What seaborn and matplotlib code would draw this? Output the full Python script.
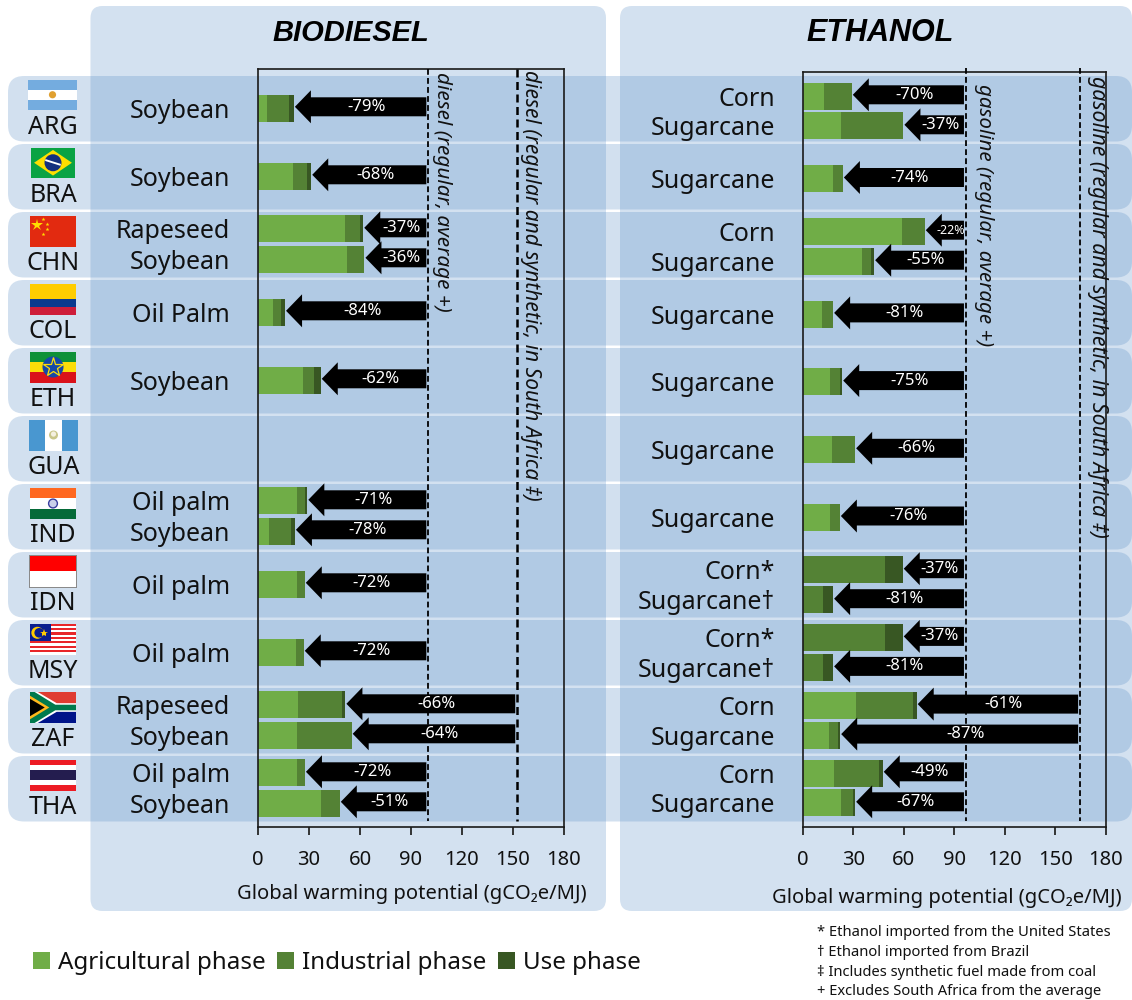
import numpy as np
import pandas as pd
import matplotlib
matplotlib.use("Agg")
import matplotlib.pyplot as plt
from matplotlib.patches import FancyBboxPatch, Rectangle, Polygon, Circle, Patch
import seaborn as sns

# ---------- data ----------
countries = ["ARG", "BRA", "CHN", "COL", "ETH", "GUA", "IND", "IDN", "MSY", "ZAF", "THA"]

bio_row = [0, 1, 2, 2, 3, 4, 6, 6, 7, 8, 9, 9, 10, 10]
bio_lane = [0, 0, -1, 1, 0, 0, -1, 1, 0, 0, -1, 1, -1, 1]
bio_feed = ["Soybean", "Soybean", "Rapeseed", "Soybean", "Oil Palm", "Soybean", "Oil palm", "Soybean",
            "Oil palm", "Oil palm", "Rapeseed", "Soybean", "Oil palm", "Soybean"]
bio_agri = [5.3, 20.5, 51.3, 52.4, 8.8, 26.5, 22.9, 6.2, 22.9, 22.5, 23.4, 22.7, 22.7, 37.2]
bio_ind = [12.9, 8.4, 8.6, 9.8, 4.5, 6.7, 4.5, 13.1, 4.5, 4.3, 25.9, 32.3, 4.8, 10.8]
bio_use = [2.8, 2.3, 1.9, 0.3, 2.5, 3.6, 1.5, 2.3, 0.0, 0.0, 2.0, 0.0, 0.0, 0.0]
bio_pct = ["-79%", "-68%", "-37%", "-36%", "-84%", "-62%", "-71%", "-78%", "-72%", "-72%", "-66%", "-64%", "-72%", "-51%"]
bio_fossil = [100.2, 100.2, 100.2, 100.2, 100.2, 100.2, 100.2, 100.2, 100.2, 100.2, 152.5, 152.5, 100.2, 100.2]
bio_refs = [100.2, 152.5]

eth_row = [0, 0, 1, 2, 2, 3, 4, 5, 6, 7, 7, 8, 8, 9, 9, 10, 10]
eth_lane = [-1, 1, 0, -1, 1, 0, 0, 0, 0, -1, 1, -1, 1, -1, 1, -1, 1]
eth_feed = ["Corn", "Sugarcane", "Sugarcane", "Corn", "Sugarcane", "Sugarcane", "Sugarcane", "Sugarcane", "Sugarcane",
            "Corn*", "Sugarcane†", "Corn*", "Sugarcane†", "Corn", "Sugarcane", "Corn", "Sugarcane"]
eth_agri = [12.5, 22.4, 18.0, 59.0, 35.2, 11.1, 15.8, 17.0, 16.2, 0.0, 0.0, 0.0, 0.0, 31.3, 15.6, 18.2, 22.6]
eth_ind = [16.4, 37.2, 5.6, 13.3, 5.2, 6.7, 6.4, 13.9, 5.6, 48.7, 11.7, 48.7, 11.7, 34.2, 5.2, 26.8, 7.3]
eth_use = [0.0, 0.0, 0.0, 0.0, 1.8, 0.0, 1.0, 0.0, 0.0, 10.5, 6.1, 10.5, 6.1, 2.0, 1.2, 2.3, 1.0]
eth_pct = ["-70%", "-37%", "-74%", "-22%", "-55%", "-81%", "-75%", "-66%", "-76%", "-37%", "-81%", "-37%", "-81%",
           "-61%", "-87%", "-49%", "-67%"]
eth_fossil = [96.9, 96.9, 96.9, 96.9, 96.9, 96.9, 96.9, 96.9, 96.9, 96.9, 96.9, 96.9, 96.9, 164.8, 164.8, 96.9, 96.9]
eth_refs = [96.9, 164.8]

phases = ["Agricultural phase", "Industrial phase", "Use phase"]
xticks = [0, 30, 60, 90, 120, 150, 180]
xlabel = "Global warming potential (gCO₂e/MJ)"
footnotes = ["* Ethanol imported from the United States", "† Ethanol imported from Brazil",
             "‡ Includes synthetic fuel made from coal", "+ Excludes South Africa from the average"]

# ---------- style ----------
C_AGRI, C_IND, C_USE = "#70AD47", "#548235", "#385723"
PANEL = "#D3E1F0"
BAND = "#4F87C3"
sns.set_theme(style="ticks")
plt.rcParams["font.family"] = ["Noto Sans", "DejaVu Sans"]
plt.rcParams["axes.edgecolor"] = "#1a1a1a"
plt.rcParams["text.color"] = "#111111"

W, H = 1132, 1000
fig = plt.figure(figsize=(W / 100, H / 100), dpi=100, facecolor="white")
bg = fig.add_axes([0, 0, 1, 1], zorder=0)
bg.set_xlim(0, W)
bg.set_ylim(H, 0)
bg.axis("off")


def rbox(x0, y0, x1, y1, r, **kw):
    bg.add_patch(FancyBboxPatch((x0 + r, y0 + r), x1 - x0 - 2 * r, y1 - y0 - 2 * r,
                                boxstyle=f"round,pad={r},rounding_size={r}", linewidth=0, **kw))


rbox(90.5, 6, 606, 911, 12, facecolor=PANEL, zorder=1)
rbox(620, 6, 1132, 911, 12, facecolor=PANEL, zorder=1)
for i in range(len(countries)):
    rbox(8, 76 + 68 * i, 1132, 141.5 + 68 * i, 16, facecolor=BAND, alpha=0.25, zorder=2)


# ---------- flags (decoration) ----------
def flag_rect(b, fx, fy, fw, fh, c, z=5):
    x, y, w, h = b
    bg.add_patch(Rectangle((x + fx * w, y + fy * h), fw * w, fh * h, facecolor=c, linewidth=0, zorder=z))


def flag_poly(b, pts, c, z=6):
    x, y, w, h = b
    bg.add_patch(Polygon([(x + px * w, y + py * h) for px, py in pts], closed=True, facecolor=c, linewidth=0, zorder=z))


def flag_dot(b, fx, fy, r, c, z=7):
    x, y, w, h = b
    bg.add_patch(Circle((x + fx * w, y + fy * h), r, facecolor=c, linewidth=0, zorder=z))


def stripes(b, fracs, cols):
    y = 0
    for f, c in zip(fracs, cols):
        flag_rect(b, 0, y, 1, f, c)
        y += f


boxes = {"ARG": (28, 79.5, 49, 30.5), "BRA": (31, 147.5, 44, 30.5), "CHN": (30, 215.5, 46, 31),
         "COL": (30, 283.5, 46, 31), "ETH": (30, 351.5, 46, 31), "GUA": (29, 419.5, 49, 31),
         "IND": (30, 488, 46, 31), "IDN": (30, 555.5, 46, 31.5), "MSY": (30, 623.5, 46, 31),
         "ZAF": (30, 692, 46, 31), "THA": (30, 759.5, 46, 31)}

b = boxes["ARG"]
stripes(b, [1 / 3, 1 / 3, 1 / 3], ["#74ACDF", "white", "#74ACDF"])
flag_dot(b, .5, .5, 3.6, "#E0A030")
b = boxes["BRA"]
flag_rect(b, 0, 0, 1, 1, "#0AA344")
flag_poly(b, [(.07, .5), (.5, .08), (.93, .5), (.5, .92)], "#FEDF00")
flag_dot(b, .5, .5, 8.5, "#14307E")
flag_poly(b, [(.33, .38), (.68, .54), (.67, .6), (.32, .44)], "white", 8)
b = boxes["CHN"]
flag_rect(b, 0, 0, 1, 1, "#E22A10")
bg.plot(b[0] + 7, b[1] + 9, marker="*", ms=9, color="#FFDE00", mew=0, zorder=7)
for fx, fy in [(.29, .1), (.36, .26), (.36, .45), (.29, .6)]:
    bg.plot(b[0] + fx * b[2], b[1] + fy * b[3], marker="*", ms=3, color="#FFDE00", mew=0, zorder=7)
b = boxes["COL"]
stripes(b, [.5, .25, .25], ["#FFCD00", "#0B3A8E", "#CE1E3A"])
b = boxes["ETH"]
stripes(b, [1 / 3, 1 / 3, 1 / 3], ["#0F9138", "#FCDD09", "#DA121A"])
flag_dot(b, .5, .5, 10.5, "#1548A8")
bg.plot(b[0] + b[2] / 2, b[1] + b[3] / 2, marker="*", ms=15, mfc="none", mec="#FCDD09", mew=.9, zorder=8)
b = boxes["GUA"]
stripes(b, [1], ["#4997D0"])
flag_rect(b, 1 / 3, 0, 1 / 3, 1, "white", 6)
flag_dot(b, .5, .5, 4.5, "#C9C68A")
flag_dot(b, .5, .47, 2.6, "#F4F0E0", 8)
b = boxes["IND"]
stripes(b, [1 / 3, 1 / 3, 1 / 3], ["#FF6820", "white", "#046A38"])
bg.add_patch(Circle((b[0] + b[2] / 2, b[1] + b[3] / 2), 4.4, facecolor="#C9CFEA", edgecolor="#3A3FA0", linewidth=1, zorder=7))
b = boxes["IDN"]
flag_rect(b, -.02, -.02, 1.04, 1.04, "#8A8A8A", 4)
stripes(b, [.5, .5], ["#FF0000", "white"])
b = boxes["MSY"]
for k in range(14):
    flag_rect(b, 0, k / 14, 1, 1 / 14, "#E8262A" if k % 2 == 0 else "white")
flag_rect(b, 0, 0, .46, 8 / 14, "#0A1F8F", 6)
flag_dot(b, .16, .3, 6, "#FFCC00")
flag_dot(b, .20, .3, 4.8, "#0A1F8F", 8)
bg.plot(b[0] + .31 * b[2], b[1] + .3 * b[3], marker="*", ms=6, color="#FFCC00", mew=0, zorder=9)
b = boxes["ZAF"]
stripes(b, [.5, .5], ["#E03C31", "#001489"])
flag_poly(b, [(0, 0), (.17, 0), (.58, .36), (1, .36), (1, .64), (.58, .64), (.17, 1), (0, 1)], "white", 6)
flag_poly(b, [(0, 0), (.1, 0), (.55, .41), (1, .41), (1, .59), (.55, .59), (.1, 1), (0, 1)], "#007A4D", 7)
flag_poly(b, [(0, .12), (.42, .5), (0, .88)], "#FFB81C", 8)
flag_poly(b, [(0, .22), (.32, .5), (0, .78)], "black", 9)
b = boxes["THA"]
stripes(b, [1 / 6, 1 / 6, 1 / 3, 1 / 6, 1 / 6], ["#ED1C24", "white", "#241D4F", "white", "#ED1C24"])

for i, c in enumerate(countries):
    bg.text(boxes[c][0] + boxes[c][2] / 2, 127.5 + 68 * i, c, ha="center", va="center", fontsize=18, color="#111111", zorder=10)


# ---------- charts ----------
def panel(bounds, p0, pitch, title, title_x, title_size, rows, lanes, feeds, agri, ind, use, pct, fossil, refs,
          ref_texts, ref_lw, ref_top, lane_off, xlab_x, xlab_y):
    x0, x1, top, bot = bounds
    ax = fig.add_axes([x0 / W, 1 - bot / H, (x1 - x0) / W, (bot - top) / H], zorder=3)
    ax.patch.set_alpha(0)
    pos = np.array(rows, float) + np.array(lanes, float) * lane_off
    a, i_, u = map(np.array, (agri, ind, use))
    df = pd.DataFrame({"pos": pos, "agri": a, "agri_ind": a + i_, "total": a + i_ + u})
    width = (27 / pitch) / np.diff(np.unique(pos)).min()
    for col, colr in [("total", C_USE), ("agri_ind", C_IND), ("agri", C_AGRI)]:
        sns.barplot(data=df, x=col, y="pos", orient="y", native_scale=True, width=width, color=colr,
                    saturation=1, errorbar=None, linewidth=0, ax=ax)
    ax.set_xlim(0, 180)
    ax.set_ylim((bot - p0) / pitch, (top - p0) / pitch)
    px_x = (x1 - x0) / 180
    dy = 1.2 / pitch
    for y, tot, f, lab in zip(pos, df["total"], fossil, pct):
        end = f - 2 / px_x
        tip = tot + 1.2 / px_x
        ax.arrow(end, y - dy, tip - end, 0, width=19 / pitch, head_width=33 / pitch, head_length=16 / px_x,
                 length_includes_head=True, facecolor="black", edgecolor="none", zorder=8)
        small = lab == "-22%"
        ax.text((tip + 16 / px_x + end) / 2 - 2 / px_x, y - dy, lab, color="white", ha="center", va="center",
                fontsize=9 if small else 12, zorder=9)
    y_end = (821 - p0) / pitch
    y_start = (ref_top - p0) / pitch
    for r, lw in zip(refs, ref_lw):
        ax.plot([r, r], [y_start, y_end], color="black", lw=lw, ls=(0, (3.2, 1.8)), clip_on=False, zorder=7)
    for (r_x, y_px, size, s) in ref_texts:
        ax.text(r_x, (y_px - p0) / pitch, s, rotation=-90, style="italic", ha="center", va="top", fontsize=size, zorder=7, clip_on=False)
    ax.set_yticks(pos, feeds)
    ax.set_xticks(xticks, [str(t) for t in xticks])
    ax.tick_params(axis="y", length=0, pad=20, labelsize=18, labelcolor="#111111")
    ax.tick_params(axis="x", length=5.8, width=1.3, pad=10.5, labelsize=14.5, labelcolor="#111111")
    ax.set_xlabel("")
    ax.set_ylabel("")
    for s in ax.spines.values():
        s.set_visible(True)
        s.set_linewidth(1.2)
    fig.text(xlab_x / W, 1 - xlab_y / H, xlabel, ha="center", va="center", fontsize=14.5)
    fig.text(title_x / W, 1 - 33 / H, title, ha="center", va="center", fontsize=title_size, fontweight="bold", style="italic",
             color="black", family="Liberation Sans")
    return ax


panel((258, 564, 68.5, 827), 108, 68, "BIODIESEL", 350.5, 21, bio_row, bio_lane, bio_feed, bio_agri, bio_ind, bio_use, bio_pct,
      bio_fossil, bio_refs,
      [(108.5, 72, 14.9, "diesel (regular, average +)"), (160, 70, 15.1, "diesel (regular and synthetic, in South Africa ‡)")],
      [1.3, 1.8], 69, 0.2206, 412, 894)
panel((803, 1105.7, 71.5, 827), 111, 67.7, "ETHANOL", 880, 22, eth_row, eth_lane, eth_feed, eth_agri, eth_ind, eth_use, eth_pct,
      eth_fossil, eth_refs,
      [(107.5, 84, 14.8, "gasoline (regular, average +)"), (175, 76, 15.3, "gasoline (regular and synthetic, in South Africa ‡)")],
      [1.3, 1.3], 68, 0.2215, 947, 898)

handles = [Patch(facecolor=c, edgecolor="none") for c in (C_AGRI, C_IND, C_USE)]
fig.legend(handles, phases, ncol=3, loc="center left", bbox_to_anchor=(33 / W, 1 - 963 / H), frameon=False,
           fontsize=17.4, borderpad=0, borderaxespad=0, handlelength=.7, handleheight=.7, handletextpad=.32, columnspacing=.5)

for k, line in enumerate(footnotes):
    fig.text(817 / W, 1 - (933 + 19.5 * k) / H, line, ha="left", va="center", fontsize=10.6)

fig.savefig("out.png", dpi=100, facecolor="white")
